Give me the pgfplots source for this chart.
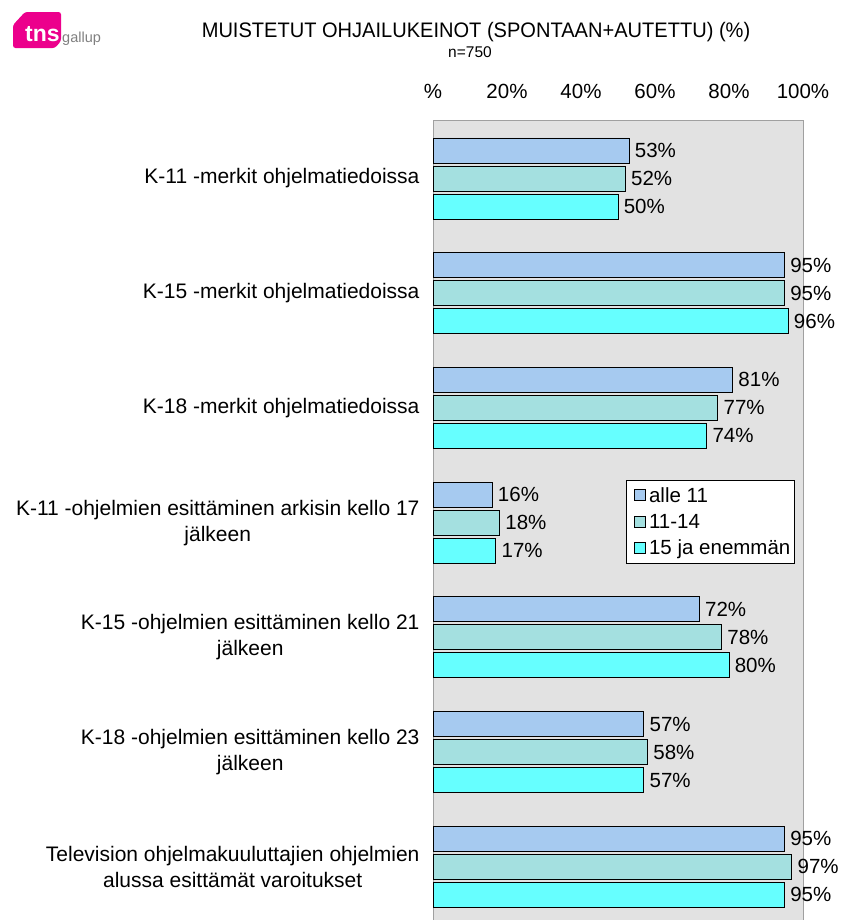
\documentclass[border=0pt]{standalone}
\usepackage{pgfplots}
\pgfplotsset{compat=1.18}
\usepackage{fontspec}
\setmainfont{Liberation Sans}
\definecolor{cA}{RGB}{166,202,240}
\definecolor{cB}{RGB}{164,224,224}
\definecolor{cC}{RGB}{102,255,255}
\definecolor{bggray}{RGB}{226,226,226}
\definecolor{bordergray}{RGB}{160,160,160}
\definecolor{logopink}{RGB}{236,0,140}
\newcommand{\lbl}{\fontsize{21bp}{26bp}\selectfont}
\begin{document}
\begin{tikzpicture}
% logo
\fill[logopink, rounded corners=2.5bp] (25bp,-12bp) -- (61bp,-12bp) -- (61bp,-41bp) -- (55bp,-48bp) -- (13bp,-48bp) -- (13bp,-25bp) -- cycle;
\node[anchor=base west, inner sep=0pt, text=white, font=\fontsize{23bp}{26bp}\selectfont\bfseries] at (25bp,-41bp) {tns};
\node[anchor=base west, inner sep=0pt, text=gray, font=\fontsize{14.5bp}{16bp}\selectfont] at (62bp,-42bp) {gallup};
% title
\node[font=\fontsize{21bp}{24bp}\selectfont] at (476bp,-32bp) {\scalebox{0.955}[1]{MUISTETUT OHJAILUKEINOT (SPONTAAN+AUTETTU) (\%)}};
\node[font=\fontsize{15.5bp}{18bp}\selectfont] at (470bp,-52bp) {n=750};
\begin{axis}[
  at={(433bp,-120bp)}, anchor=north west,
  width=370bp, height=810bp, scale only axis,
  xmin=0, xmax=100, ymin=-0.552, ymax=6.51,
  xbar, bar width=25bp,
  axis background/.style={fill=bggray},
  axis line style={draw=bordergray, line width=1bp},
  xtick={0,20,40,60,80,100},
  xticklabels={\%,20\%,40\%,60\%,80\%,100\%},
  xticklabel pos=upper,
  xticklabel style={yshift=18bp, font=\fontsize{20.5bp}{24bp}\selectfont},
  ytick={0,1,2,3,4,5,6},
  yticklabels={
    {Television ohjelmakuuluttajien ohjelmien\\alussa esittämät varoitukset},
    {K-18 -ohjelmien esittäminen kello 23\\jälkeen},
    {K-15 -ohjelmien esittäminen kello 21\\jälkeen},
    {K-11 -ohjelmien esittäminen arkisin kello 17\\jälkeen},
    {K-18 -merkit ohjelmatiedoissa},
    {K-15 -merkit ohjelmatiedoissa},
    {K-11 -merkit ohjelmatiedoissa}},
  yticklabel style={anchor=east, align=center, xshift=-10bp, font=\lbl},
  major tick length=0,
  /pgf/number format/assume math mode=true,
  point meta=x,
  nodes near coords={\pgfmathprintnumber{\pgfplotspointmeta}\%},
  nodes near coords style={font=\fontsize{20.5bp}{24bp}\selectfont, anchor=west, text=black, xshift=2bp},
  legend style={at={(0.5216,0.5556)}, anchor=north west, draw=black, fill=white,
    font=\fontsize{20.5bp}{24bp}\selectfont, inner xsep=2bp, inner ysep=5bp, row sep=6.5bp, cells={anchor=west}},
  legend image code/.code={\path (0bp,0bp) (18bp,0bp); \draw[#1, line width=0.8bp] (6bp,-5.5bp) rectangle (17bp,5.5bp);},
]
\addplot[fill=cA, draw=black, line width=0.9bp, bar shift=28bp] coordinates {
 (95,0) (57,1) (72,2) (16,3) (81,4) (95,5) (53,6)};
\addplot[fill=cB, draw=black, line width=0.9bp, bar shift=0bp] coordinates {
 (97,0) (58,1) (78,2) (18,3) (77,4) (95,5) (52,6)};
\addplot[fill=cC, draw=black, line width=0.9bp, bar shift=-28bp] coordinates {
 (95,0) (57,1) (80,2) (17,3) (74,4) (96,5) (50,6)};
\legend{alle 11, 11-14, 15 ja enemmän}
\end{axis}
\pgfresetboundingbox
\useasboundingbox (0,0) rectangle (844bp,-920bp);
\end{tikzpicture}
\end{document}
